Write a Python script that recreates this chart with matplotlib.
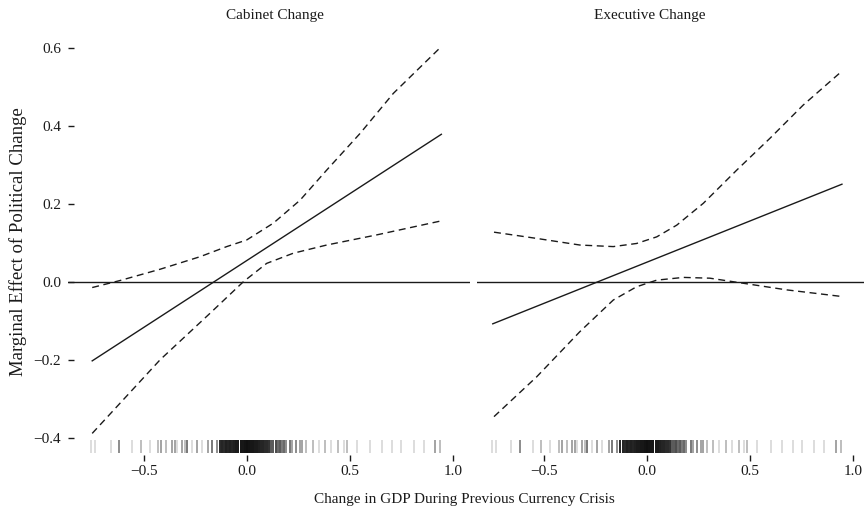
import matplotlib
matplotlib.use("Agg")
import matplotlib.pyplot as plt
import numpy as np

plt.rcParams["font.family"] = ["Liberation Serif", "DejaVu Serif"]

# marginal effect lines (x, estimate)
line_x = [-0.75, 0.945]
cab_est = [-0.203, 0.378]
exe_est = [-0.108, 0.250]

# confidence bounds
cab_ci_x = [-0.75, -0.615, -0.42, -0.227, -0.097, 0.0, 0.129, 0.259, 0.388, 0.55, 0.712, 0.945]
cab_upper = [-0.015, 0.003, 0.032, 0.064, 0.090, 0.107, 0.150, 0.209, 0.286, 0.380, 0.483, 0.603]
cab_lo_x = [-0.75, -0.42, -0.178, -0.016, 0.097, 0.226, 0.388, 0.631, 0.945]
cab_lower = [-0.389, -0.200, -0.081, 0.000, 0.047, 0.073, 0.094, 0.120, 0.156]

exe_ci_x = [-0.744, -0.537, -0.327, -0.165, -0.052, 0.046, 0.143, 0.272, 0.434, 0.596, 0.757, 0.945]
exe_upper = [0.127, 0.111, 0.094, 0.090, 0.098, 0.115, 0.145, 0.201, 0.286, 0.368, 0.453, 0.540]
exe_lo_x = [-0.744, -0.537, -0.327, -0.165, -0.052, 0.046, 0.175, 0.304, 0.466, 0.677, 0.945]
exe_lower = [-0.346, -0.244, -0.128, -0.047, -0.013, 0.004, 0.011, 0.009, -0.004, -0.021, -0.038]

# rug: observed GDP change values and how many obs sit on each
rug_x = [-0.755, -0.735, -0.66, -0.62, -0.555, -0.515, -0.47, -0.43, -0.415, -0.39,
         -0.364, -0.35, -0.34, -0.316, -0.30, -0.291, -0.267, -0.243, -0.218, -0.186,
         -0.17, -0.146,
         -0.13, -0.12, -0.11, -0.10, -0.09, -0.08, -0.07, -0.06, -0.05, -0.04,
         -0.03, -0.02, -0.01, 0.0, 0.01, 0.02, 0.03, 0.04, 0.05, 0.06,
         0.07, 0.08, 0.09, 0.10, 0.11, 0.12, 0.13, 0.14, 0.15, 0.16,
         0.17, 0.18, 0.19, 0.21, 0.22, 0.24, 0.26, 0.27, 0.29, 0.32,
         0.35, 0.38, 0.41, 0.445, 0.47, 0.485, 0.535, 0.60, 0.655, 0.705,
         0.75, 0.81, 0.86, 0.915, 0.94]
rug_n = [1, 1, 1, 4, 1, 2, 1, 2, 3, 2,
         3, 3, 1, 3, 2, 5, 1, 3, 1, 3,
         5, 4,
         12, 13, 12, 14, 13, 14, 13, 14, 15, 15,
         16, 16, 17, 18, 17, 16, 16, 15, 15, 14,
         13, 13, 12, 12, 11, 7, 7, 8, 6, 7,
         5, 6, 4, 5, 3, 4, 3, 3, 2, 2,
         1, 2, 1, 2, 1, 2, 1, 1, 1, 1,
         1, 1, 1, 3, 2]

titles = ["Cabinet Change", "Executive Change"]
title_px = [275, 650]
x_ticks = [-0.5, 0.0, 0.5, 1.0]
y_ticks = [-0.4, -0.2, 0.0, 0.2, 0.4, 0.6]

ink = "#1a1a1a"
W, H = 864, 517
fig = plt.figure(figsize=(W / 100, H / 100), dpi=100)

ax1 = fig.add_axes([68 / W, 62 / H, 402 / W, 420 / H])
ax2 = fig.add_axes([476.7 / W, 62 / H, (W - 476.7) / W, 420 / H])
ax1.set_xlim(-0.8675, 1.084)
ax2.set_xlim(-0.828, 1.052)

panels = [
    (ax1, cab_est, cab_ci_x, cab_upper, cab_lo_x, cab_lower),
    (ax2, exe_est, exe_ci_x, exe_upper, exe_lo_x, exe_lower),
]
rug_all = np.repeat(rug_x, rug_n)
for ax, est, ux, up, lx, lo in panels:
    ax.set_ylim(-0.4444, 0.6326)
    ax.axhline(0, color=ink, lw=1.0)
    ax.plot(line_x, est, color=ink, lw=1.0)
    ax.plot(ux, up, color=ink, lw=1.0, dashes=(5, 3.3))
    ax.plot(lx, lo, color=ink, lw=1.0, dashes=(5, 3.3))
    ax.vlines(rug_all, -0.44, -0.407, color="black", alpha=0.15, lw=1.3)
    for s in ax.spines.values():
        s.set_visible(False)
    ax.set_xticks(x_ticks)
    ax.tick_params(axis="x", direction="out", length=4, width=1.0, pad=3,
                   labelsize=11, colors=ink)
    ax.patch.set_visible(False)

ax1.set_yticks(y_ticks)
ax1.tick_params(axis="y", direction="in", length=4.5, width=1.0, pad=5,
                labelsize=11, colors=ink)
ax2.set_yticks([])

for t, px in zip(titles, title_px):
    fig.text(px / W, 1 - 16 / H, t, ha="center", va="center", fontsize=11, color=ink)

fig.text(464 / W, 1 - 500 / H, "Change in GDP During Previous Currency Crisis",
         ha="center", va="center", fontsize=11, color=ink)
fig.text(18 / W, 1 - 242 / H, "Marginal Effect of Political Change",
         ha="center", va="center", rotation=90, fontsize=13.5, color=ink)

fig.savefig("out.png", dpi=100)
